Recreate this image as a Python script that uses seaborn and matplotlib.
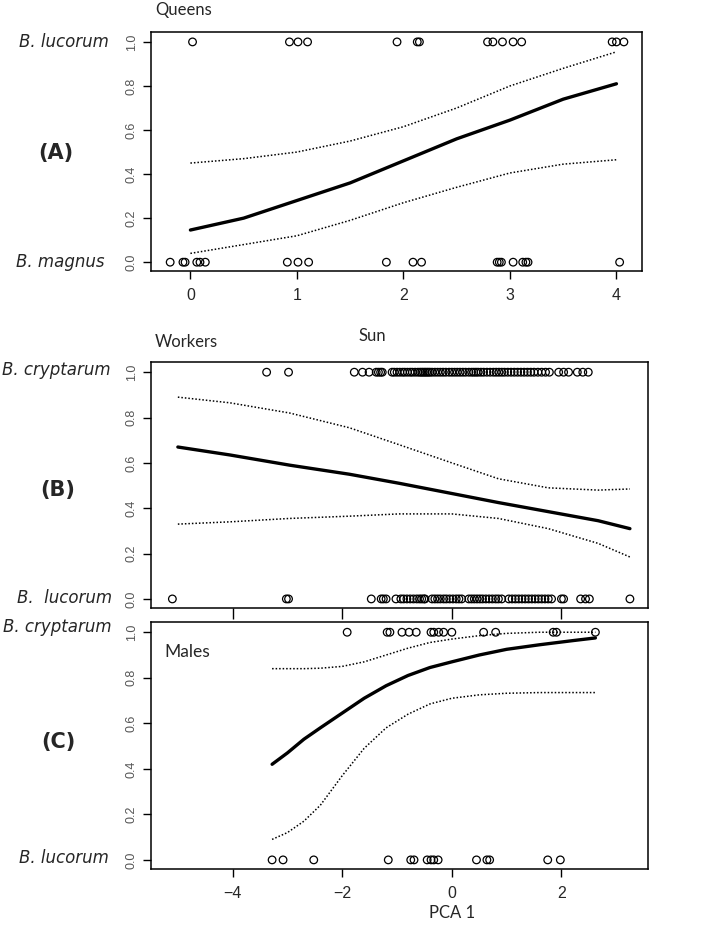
import matplotlib
matplotlib.use("Agg")
import matplotlib.pyplot as plt
import seaborn as sns

# ---------------- Panel A: Queens (1 = B. lucorum, 0 = B. magnus)
queens_top = [0.02, 0.93, 1.01, 1.10, 1.94, 2.13, 2.15, 2.79, 2.84, 2.93,
              3.03, 3.11, 3.96, 4.00, 4.07]
queens_bottom = [-0.19, -0.07, -0.05, 0.06, 0.09, 0.14, 0.91, 1.01, 1.11,
                 1.84, 2.09, 2.17, 2.88, 2.90, 2.92, 3.03, 3.12, 3.15, 3.17, 4.03]
queens_x = [0, 0.5, 1, 1.5, 2, 2.5, 3, 3.5, 4]
queens_fit = [0.146, 0.20, 0.28, 0.36, 0.46, 0.56, 0.645, 0.74, 0.81]
queens_upper = [0.45, 0.47, 0.50, 0.55, 0.615, 0.70, 0.80, 0.88, 0.955]
queens_lower = [0.04, 0.08, 0.12, 0.19, 0.27, 0.34, 0.405, 0.445, 0.465]

# ---------------- Panel B: Workers (1 = B. cryptarum, 0 = B. lucorum)
workers_top = [-3.38, -2.98,
               -1.78, -1.63, -1.51, -1.38, -1.34, -1.30, -1.27,
               -1.09, -1.05, -1.00, -0.95, -0.90, -0.86, -0.81, -0.76, -0.72,
               -0.67, -0.62, -0.58, -0.55, -0.52, -0.49, -0.46, -0.43, -0.40,
               -0.36, -0.31, -0.26, -0.21, -0.16, -0.11, -0.05, 0.00, 0.05,
               0.10, 0.15, 0.20, 0.25, 0.31, 0.36, 0.40, 0.44, 0.48, 0.53,
               0.58, 0.64, 0.70, 0.76, 0.81, 0.86, 0.91, 0.96, 1.02, 1.08,
               1.14, 1.20, 1.26, 1.32, 1.38, 1.44, 1.50, 1.57, 1.64, 1.71, 1.78,
               1.95, 2.04, 2.13, 2.29, 2.39, 2.49]
workers_bottom = [-5.10, -3.02, -2.98,
                  -1.47, -1.29, -1.25, -1.20, -1.02, -0.93, -0.88, -0.82, -0.76,
                  -0.70, -0.64, -0.59, -0.55, -0.51, -0.49, -0.36, -0.31, -0.26,
                  -0.21, -0.15, -0.10, -0.04, 0.02, 0.08, 0.13, 0.18, 0.31, 0.36,
                  0.41, 0.46, 0.51, 0.56, 0.62, 0.68, 0.74, 0.80, 0.85, 0.91,
                  1.04, 1.10, 1.16, 1.22, 1.28, 1.34, 1.40, 1.46, 1.52, 1.58,
                  1.64, 1.70, 1.76, 1.82, 2.00, 2.04, 2.35, 2.44, 2.51, 3.25]
workers_x = [-5.0, -4.05, -2.96, -1.87, -0.96, 0.0, 0.85, 1.76, 2.67, 3.25]
workers_fit = [0.67, 0.635, 0.59, 0.55, 0.51, 0.465, 0.425, 0.385, 0.345, 0.31]
workers_upper = [0.89, 0.865, 0.82, 0.755, 0.68, 0.60, 0.53, 0.49, 0.48, 0.485]
workers_lower = [0.33, 0.34, 0.355, 0.365, 0.375, 0.375, 0.355, 0.31, 0.245, 0.185]

# ---------------- Panel C: Males (1 = B. cryptarum, 0 = B. lucorum)
males_top = [-1.91, -1.18, -1.13, -0.91, -0.78, -0.65, -0.38, -0.33, -0.24,
             -0.15, 0.00, 0.58, 0.80, 1.85, 1.91, 2.62]
males_bottom = [-3.28, -3.08, -2.52, -1.16, -0.75, -0.69, -0.45, -0.38, -0.33,
                -0.25, 0.45, 0.64, 0.69, 1.75, 1.98]
males_x = [-3.28, -3.0, -2.7, -2.4, -2.0, -1.6, -1.2, -0.8, -0.4, 0.0, 0.5,
           1.0, 1.6, 2.2, 2.62]
males_fit = [0.42, 0.47, 0.53, 0.58, 0.645, 0.71, 0.765, 0.81, 0.845, 0.87,
             0.90, 0.925, 0.945, 0.963, 0.975]
males_upper = [0.84, 0.84, 0.84, 0.842, 0.85, 0.87, 0.90, 0.93, 0.955, 0.97,
               0.985, 0.995, 1.0, 1.0, 1.0]
males_lower = [0.09, 0.12, 0.17, 0.24, 0.37, 0.49, 0.58, 0.64, 0.685, 0.71,
               0.725, 0.732, 0.735, 0.735, 0.735]

yticks = [0.0, 0.2, 0.4, 0.6, 0.8, 1.0]

sns.set_style("ticks")
plt.rcParams['font.family'] = ['Liberation Sans', 'DejaVu Sans']

W, H = 709, 944
fig = plt.figure(figsize=(W / 100, H / 100), dpi=100)


def add_ax(left, top, right, bottom):
    # pixel box -> figure fraction
    return fig.add_axes([left / W, 1 - bottom / H, (right - left) / W, (bottom - top) / H])


def draw_panel(ax, top, bottom, fx, fit, up, lo, xlim):
    sns.lineplot(x=fx, y=up, color="black", lw=1.1, linestyle=(0, (1, 1.3)), ax=ax)
    sns.lineplot(x=fx, y=lo, color="black", lw=1.1, linestyle=(0, (1, 1.3)), ax=ax)
    sns.lineplot(x=fx, y=fit, color="black", lw=2.4, ax=ax)
    sns.scatterplot(x=top, y=[1.0] * len(top), facecolor="none", edgecolor="black",
                    s=30, linewidth=0.9, ax=ax)
    sns.scatterplot(x=bottom, y=[0.0] * len(bottom), facecolor="none", edgecolor="black",
                    s=30, linewidth=0.9, ax=ax)
    ax.set_xlim(xlim)
    ax.set_ylim(-0.04, 1.045)
    ax.set_yticks(yticks)
    ax.set_yticklabels([f"{v:.1f}" for v in yticks], rotation=90, va="center",
                       fontsize=9, color="#555555")
    ax.tick_params(axis="both", direction="out", length=6, width=1, color="black")
    ax.tick_params(axis="x", labelsize=11.5, pad=6)
    for s in ax.spines.values():
        s.set_linewidth(1.1)
        s.set_color("black")
    ax.set_xlabel("")
    ax.set_ylabel("")


axA = add_ax(151, 32, 642, 271)
draw_panel(axA, queens_top, queens_bottom, queens_x, queens_fit, queens_upper,
           queens_lower, (-0.37, 4.24))
axA.set_xticks([0, 1, 2, 3, 4])
axA.set_xticklabels(["0", "1", "2", "3", "4"])

axB = add_ax(151, 362, 648, 608)
draw_panel(axB, workers_top, workers_bottom, workers_x, workers_fit, workers_upper,
           workers_lower, (-5.49, 3.58))
axB.set_xticks([-4, -2, 0, 2])
axB.set_xticklabels([])
axB.tick_params(axis="x", length=8)

axC = add_ax(151, 622, 648, 869)
draw_panel(axC, males_top, males_bottom, males_x, males_fit, males_upper,
           males_lower, (-5.49, 3.58))
axC.set_xticks([-4, -2, 0, 2])
axC.set_xticklabels(["\u22124", "\u22122", "0", "2"])


def ftext(x, y, s, **kw):
    fig.text(x / W, 1 - y / H, s, **kw)


title_font = ['Lato', 'DejaVu Sans']
ftext(155, 10, "Queens", fontsize=12, va="center", family=title_font)
ftext(155, 342, "Workers", fontsize=12, va="center", family=title_font)
ftext(372, 336, "Sun", fontsize=12, va="center", ha="center", family=title_font)
ftext(164, 652, "Males", fontsize=12.5, va="center", family=title_font)
ftext(452, 913, "PCA 1", fontsize=12, va="center", ha="center", family=title_font)

lab = dict(fontsize=12, style="italic", va="center", ha="right", family=['DejaVu Sans'])
ftext(109, 42, "B. lucorum", **lab)
ftext(105, 262, "B. magnus", **lab)
ftext(111, 370, "B. cryptarum", **lab)
ftext(112, 598, "B.  lucorum", **lab)
ftext(112, 627, "B. cryptarum", **lab)
ftext(109, 858, "B. lucorum", **lab)

pan = dict(fontsize=15, weight="bold", va="center", ha="center", family=['DejaVu Sans'])
ftext(56, 153, "(A)", **pan)
ftext(58, 490, "(B)", **pan)
ftext(58, 742, "(C)", **pan)

fig.savefig("out.png", dpi=100)
